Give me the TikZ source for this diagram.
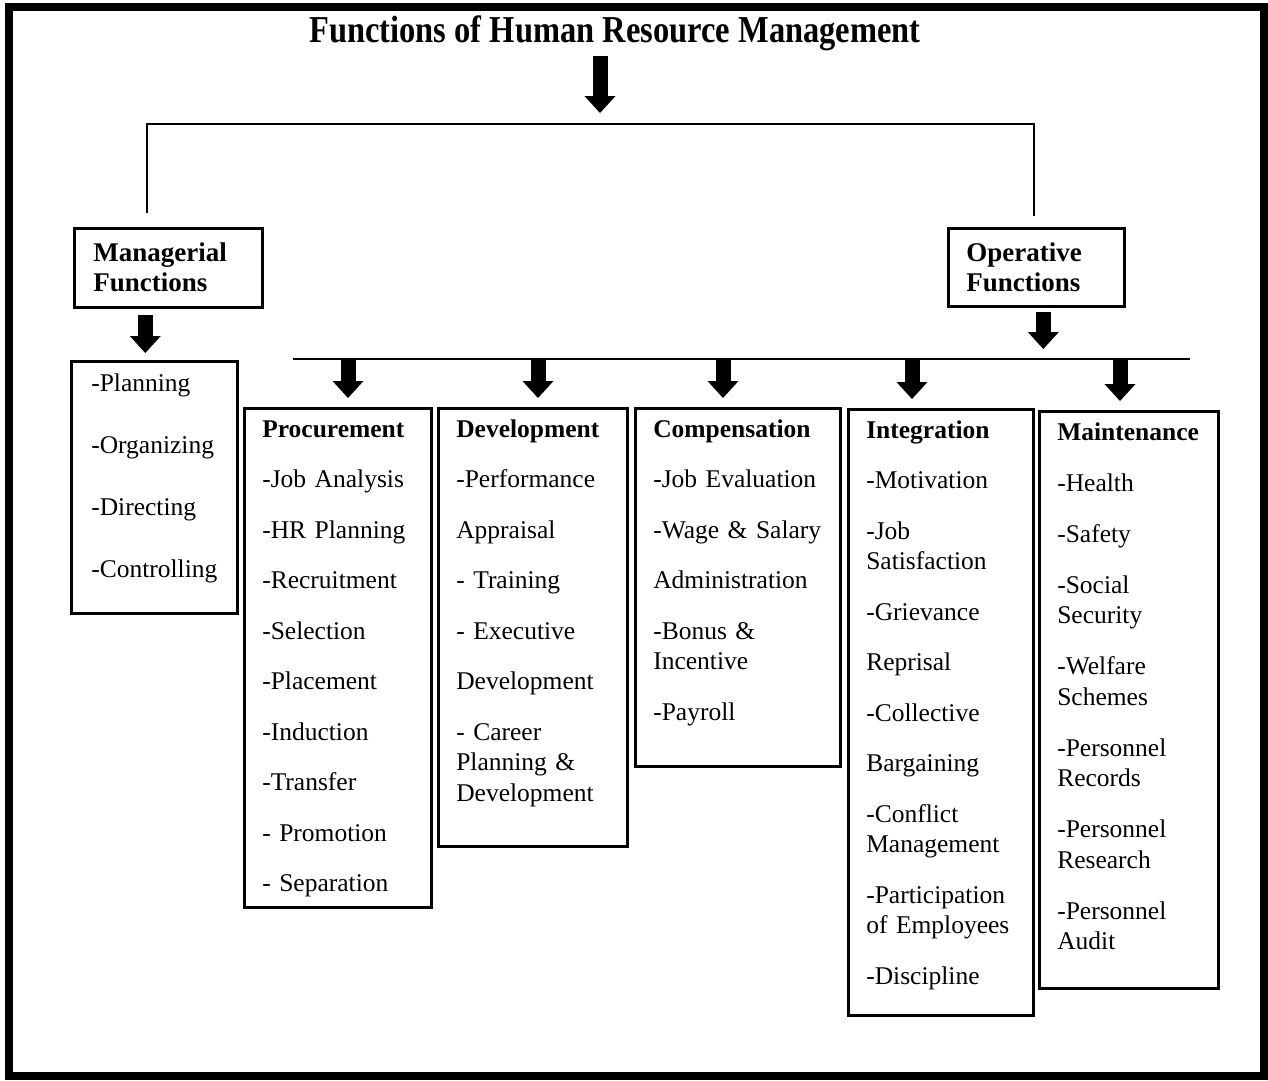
\documentclass[tikz,border=0pt]{standalone}
\usepackage{fontspec}
\setmainfont{Liberation Serif}
\usetikzlibrary{arrows.meta}

\hyphenpenalty=10000
\exhyphenpenalty=10000

\begin{document}
\begin{tikzpicture}[
  x=1pt, y=-1pt,
  hrmbox/.style={
    draw, line width=2.6pt, anchor=north west,
    align=left, inner xsep=18pt, inner ysep=0pt,
    text height=29pt,
    font=\fontsize{25.5}{30.5}\selectfont
  },
  headbox/.style={
    hrmbox, inner xsep=19pt, text height=33pt,
    font=\fontsize{27}{30}\selectfont\bfseries
  },
  link/.style={line width=2.6pt},
  bigarrow/.style={line width=15pt,
    -{Triangle[width=31pt, length=17pt, line width=0pt]}}
]
\useasboundingbox (0,0) rectangle (1268,1080);

% ---- Outer frame ----
\draw[line width=8pt] (9,7) rectangle (1264,1076);

% ---- Title ----
\node[anchor=base] (title) at (615,42) {%
  \scalebox{0.855}[1]{\fontsize{38}{40}\selectfont\bfseries
    Functions of Human Resource Management}%
};

% ---- Managerial / Operative ----
\node[headbox, text width=150pt, text depth=46pt] (mgr) at (73,227) {%
  Managerial\\
  Functions%
};
\node[headbox, inner xsep=18pt, text width=140pt, text depth=45pt]
  (oper) at (947,227) {%
  Operative\\
  Functions%
};

% ---- Managerial list ----
\node[hrmbox, inner xsep=20pt, text width=126pt, text height=30pt,
      text depth=222pt] (plan) at (70,360) {%
  -Planning\\[31.5pt]
  -Organizing\\[31.5pt]
  -Directing\\[31.5pt]
  -Controlling%
};

% ---- Operative lists ----
\node[hrmbox, text width=151pt, text depth=470pt] (proc) at (243,407) {%
  \textbf{Procurement}\\[20pt]
  -Job Analysis\\[20pt]
  -HR Planning\\[20pt]
  -Recruitment\\[20pt]
  -Selection\\[20pt]
  -Placement\\[20pt]
  -Induction\\[20pt]
  -Transfer\\[20pt]
  - Promotion\\[20pt]
  - Separation%
};

\node[hrmbox, text width=153pt, text depth=409pt] (dev) at (437,407) {%
  \textbf{Development}\\[20pt]
  -Performance\\[20pt]
  Appraisal\\[20pt]
  - Training\\[20pt]
  - Executive\\[20pt]
  Development\\[20pt]
  - Career\\
  Planning \&\\
  Development%
};

\node[hrmbox, text width=169pt, text depth=329pt] (comp) at (634,407) {%
  \textbf{Compensation}\\[20pt]
  -Job Evaluation\\[20pt]
  -Wage \& Salary\\[20pt]
  Administration\\[20pt]
  -Bonus \&\\
  Incentive\\[20pt]
  -Payroll%
};

\node[hrmbox, text width=149pt, text depth=577pt] (integ) at (847,408) {%
  \textbf{Integration}\\[20pt]
  -Motivation\\[20pt]
  -Job\\
  Satisfaction\\[20pt]
  -Grievance\\[20pt]
  Reprisal\\[20pt]
  -Collective\\[20pt]
  Bargaining\\[20pt]
  -Conflict\\
  Management\\[20pt]
  -Participation\\
  of Employees\\[20pt]
  -Discipline%
};

\node[hrmbox, text width=143pt, text depth=548pt] (maint) at (1038,410) {%
  \textbf{Maintenance}\\[20.5pt]
  -Health\\[20.5pt]
  -Safety\\[20.5pt]
  -Social\\
  Security\\[20.5pt]
  -Welfare\\
  Schemes\\[20.5pt]
  -Personnel\\
  Records\\[20.5pt]
  -Personnel\\
  Research\\[20.5pt]
  -Personnel\\
  Audit%
};

% ---- Bracket under the title ----
\coordinate (hub) at (600,124);
\coordinate (brL) at (147,124);
\coordinate (brR) at (1034,124);
\draw[link, shorten <=14pt, shorten >=11pt]
  (brL |- mgr.north) -- (brL) -- (brR) -- (brR |- oper.north);
\draw[bigarrow, shorten <=2pt, shorten >=11pt] (title.south -| hub) -- (hub);

% ---- Managerial arrow ----
\draw[bigarrow, shorten <=6pt, shorten >=7pt]
  ([xshift=-23pt]mgr.south) -- ([xshift=-23pt]mgr.south |- plan.north);

% ---- Operative bar and arrows ----
\coordinate (barL) at (293,359);
\coordinate (barR) at (1190,359);
\draw[link] (barL) -- (barR);
\draw[bigarrow, shorten <=4pt, shorten >=10pt]
  ([xshift=7pt]oper.south) -- ([xshift=7pt]oper.south |- barL);

\foreach \x/\b in {348/proc, 538/dev, 723/comp, 912/integ, 1120/maint} {
  \coordinate (arr-\b) at (\x,359);
  \draw[bigarrow, shorten <=1pt, shorten >=9pt] (arr-\b) -- (arr-\b |- \b.north);
}

\end{tikzpicture}
\end{document}
